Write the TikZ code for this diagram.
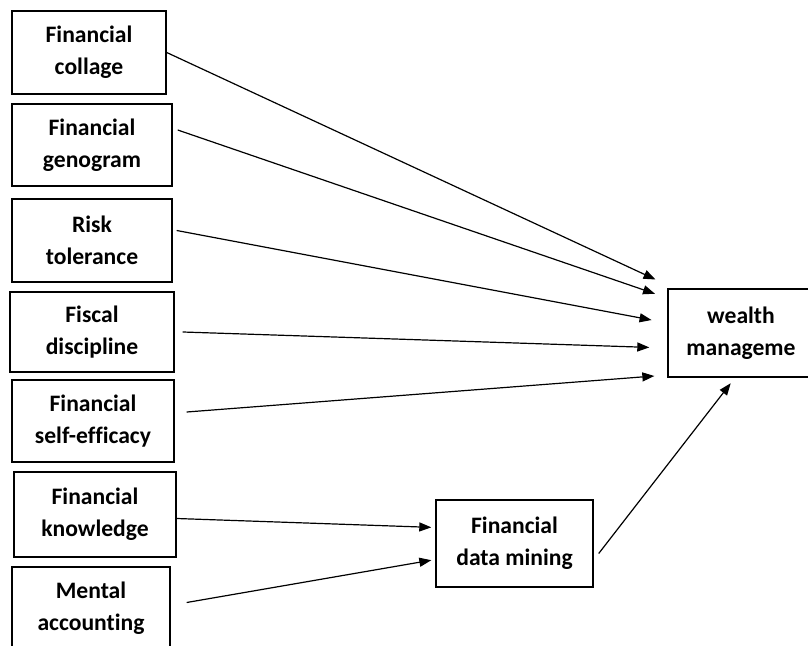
\documentclass[tikz,border=0pt]{standalone}
\usepackage{fontspec}
\setmainfont{Carlito}[Ligatures={NoCommon}]
\usetikzlibrary{arrows.meta}

\begin{document}
\begin{tikzpicture}[x=0.5pt, y=-0.5pt,
    factor/.style={draw, line width=0.7pt, align=center, inner sep=0pt, minimum width=80pt, minimum height=41pt, font=\fontsize{11.8}{16}\selectfont\bfseries},
    arr/.style={-{Triangle[length=6pt, width=4.5pt]}, line width=0.6pt},
]
\useasboundingbox (0,0) rectangle (808,646);

% left column
\node[factor, minimum width=77pt, minimum height=41.5pt] (collage) at (89,52.5) {Financial\\collage};
\node[factor] (genogram) at (92,145) {Financial\\genogram};
\node[factor, minimum height=41.5pt] (risk) at (92,240.5) {Risk\\tolerance};
\node[factor, minimum width=82pt, minimum height=40pt] (fiscal) at (92,332) {Fiscal\\discipline};
\node[factor, minimum width=81pt] (efficacy) at (93,421) {Financial\\self-efficacy};
\node[factor, minimum width=81pt, minimum height=42.5pt] (knowledge) at (95,514.5) {Financial\\knowledge};
\node[factor, minimum width=79pt, minimum height=41.5pt] (mental) at (91,608.5) {Mental\\accounting};

% mediator and outcome
\node[factor, minimum width=78.5pt, minimum height=43.5pt] (mining) at (514.5,543.5) {Financial\\data mining};
\node[factor, minimum width=73pt, minimum height=44pt] (wealth) at (741,333) {wealth\\manageme};

\draw[arr, shorten >=6.5pt] (collage.east) -- ([yshift=24pt]wealth.west);
\draw[arr, shorten >=6.5pt] ([xshift=2.5pt, yshift=7.5pt]genogram.east) -- ([yshift=17.5pt]wealth.west);
\draw[arr, shorten >=8pt] ([xshift=2pt, yshift=5pt]risk.east) -- ([yshift=5pt]wealth.west);
\draw[arr, shorten >=9pt] ([xshift=4pt]fiscal.east) -- ([yshift=-7.5pt]wealth.west);
\draw[arr, shorten >=6.5pt] ([xshift=6pt, yshift=4.5pt]efficacy.east) -- ([yshift=-21pt]wealth.west);
\draw[arr, shorten >=2pt] ([yshift=-2pt]knowledge.east) -- ([yshift=8pt]mining.west);
\draw[arr, shorten >=2pt] ([xshift=8pt, yshift=3pt]mental.east) -- ([yshift=-8pt]mining.west);
\draw[arr, shorten >=3.5pt] ([xshift=2.5pt, yshift=-5pt]mining.east) -- ([xshift=-3pt]wealth.south);
\end{tikzpicture}
\end{document}
